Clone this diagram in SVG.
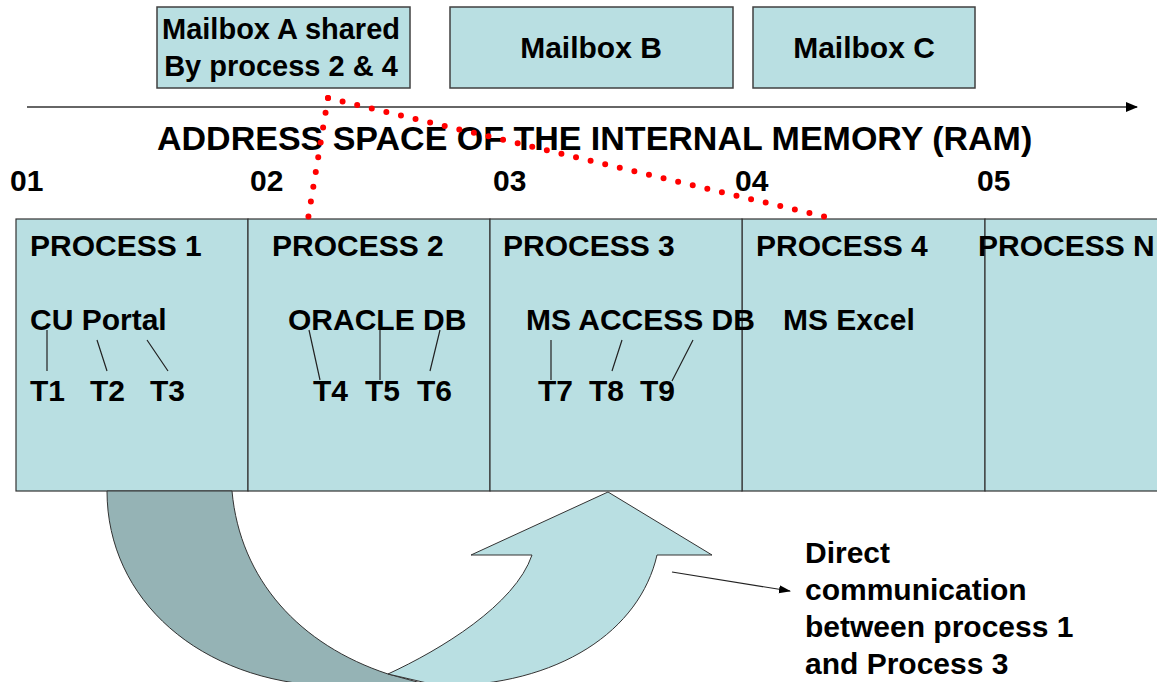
<svg xmlns="http://www.w3.org/2000/svg" width="1157" height="682" viewBox="0 0 1157 682">
<style>
text{font-family:"Liberation Sans",Arial,sans-serif;font-weight:bold;fill:#000}
.box{fill:#b9dfe2;stroke:#404040;stroke-width:1.5}
.cell{fill:#b9dfe2;stroke:#333;stroke-width:1.2}
.t28{font-size:30px}
.tk{stroke:#222;stroke-width:1.2;fill:none}
.dot{stroke:#ff0000;stroke-width:6;stroke-linecap:round;stroke-dasharray:0 15;fill:none}
</style>
<defs>
<marker id="ah" markerWidth="12" markerHeight="10" refX="11" refY="5" orient="auto" markerUnits="userSpaceOnUse">
<path d="M0,0 L12,5 L0,10 Z" fill="#000"/>
</marker>
<marker id="ah2" markerWidth="12" markerHeight="10" refX="11" refY="5" orient="auto" markerUnits="userSpaceOnUse">
<path d="M0,1 L12,5 L0,9 Z" fill="#000"/>
</marker>
</defs>

<g id="mailboxA"><rect class="box" x="157" y="7" width="253" height="81"/>
<text x="281" y="39" font-size="29" text-anchor="middle">Mailbox A shared</text>
<text x="281" y="76" font-size="29" text-anchor="middle">By process 2 &amp; 4</text></g>
<g id="mailboxB"><rect class="box" x="450" y="7" width="283" height="81"/>
<text class="t28" x="591" y="58" text-anchor="middle">Mailbox B</text></g>
<g id="mailboxC"><rect class="box" x="753" y="7" width="222" height="81"/>
<text class="t28" x="864" y="58" text-anchor="middle">Mailbox C</text></g>

<g id="axis">
<line x1="27" y1="107" x2="1137" y2="107" stroke="#333" stroke-width="1.5" marker-end="url(#ah)"/>
<text x="157" y="150" font-size="34">ADDRESS SPACE OF THE INTERNAL MEMORY (RAM)</text>
<text x="10" y="191" font-size="30">01</text>
<text x="250" y="191" font-size="30">02</text>
<text x="493" y="191" font-size="30">03</text>
<text x="735" y="191" font-size="30">04</text>
<text x="977" y="191" font-size="30">05</text>
</g>

<g id="process1"><rect class="cell" x="16" y="219" width="232" height="272"/>
<text class="t28" x="30" y="256">PROCESS 1</text>
<text class="t28" x="30" y="330">CU Portal</text>
<text class="t28" x="30" y="401">T1</text><text class="t28" x="90" y="401">T2</text><text class="t28" x="150" y="401">T3</text>
<path class="tk" d="M47,330 V371 M97,340 L107,371 M147,340 L168,371"/></g>
<g id="process2"><rect class="cell" x="248" y="219" width="242" height="272"/>
<text class="t28" x="272" y="256">PROCESS 2</text>
<text class="t28" x="288" y="330">ORACLE DB</text>
<text class="t28" x="313" y="401">T4</text><text class="t28" x="365" y="401">T5</text><text class="t28" x="417" y="401">T6</text>
<path class="tk" d="M309,330 L320,380 M380,330 V380 M440,330 L430,371"/></g>
<g id="process4"><rect class="cell" x="742" y="219" width="243" height="272"/>
<text class="t28" x="756" y="256">PROCESS 4</text>
<text class="t28" x="783" y="330">MS Excel</text></g>
<g id="process3"><rect class="cell" x="490" y="219" width="252" height="272"/>
<text class="t28" x="503" y="256">PROCESS 3</text>
<text class="t28" x="526" y="330">MS ACCESS DB</text>
<text class="t28" x="538" y="401">T7</text><text class="t28" x="589" y="401">T8</text><text class="t28" x="640" y="401">T9</text>
<path class="tk" d="M551,340 V380 M622,340 L612,371 M693,340 L672,381"/></g>
<g id="processN"><rect class="cell" x="985" y="219" width="180" height="272"/>
<text class="t28" x="978" y="256">PROCESS N</text></g>

<g id="connectors">
<path class="dot" d="M328,98 L308,219"/>
<path class="dot" d="M328,98 L830,218"/>
<path d="M107,491 L232,491 C240,580 300,645 388,674 L432,686 L330,686 C200,682 107,600 107,491 Z" fill="#95b3b5" stroke="#333" stroke-width="1"/>
<path d="M388,674 C440,650 515,605 532,555 L471,555 L608,492 L712,555 L657,555 C640,630 560,686 440,686 Z" fill="#b9dfe2" stroke="#333" stroke-width="1"/>
<line x1="672" y1="572" x2="790" y2="591" stroke="#222" stroke-width="1.2" marker-end="url(#ah2)"/>
</g>

<g id="note">
<text class="t28" x="805" y="563">Direct</text>
<text class="t28" x="805" y="600">communication</text>
<text class="t28" x="805" y="637">between process 1</text>
<text class="t28" x="805" y="674">and Process 3</text>
</g>
</svg>
